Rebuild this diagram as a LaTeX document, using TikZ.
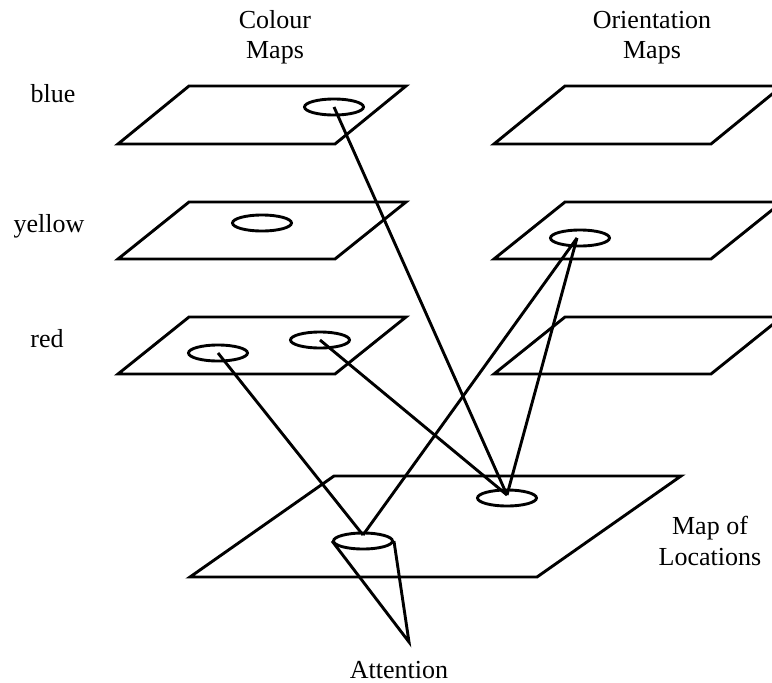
\documentclass[tikz,border=0pt]{standalone}
\usepackage{fontspec}
\setmainfont{Liberation Serif}
\usetikzlibrary{shapes.geometric}
\begin{document}
\begin{tikzpicture}[x=1pt,y=-1pt,
  lw/.style={line width=2.9pt},
  mapsheet/.style={lw},
  spot/.style={ellipse,draw,line width=2.9pt,minimum width=59pt,minimum height=16pt,inner sep=0pt},
  link/.style={lw},
  lbl/.style={font=\fontsize{26}{30}\selectfont,inner sep=0pt,anchor=base,align=center}]
\clip (0,0) rectangle (772,683);
% colour and orientation maps
\foreach \t/\b in {86/144,202/259,317/374}{
  \draw[mapsheet] (118,\b) -- (189,\t) -- (406,\t) -- (335,\b) -- cycle;
  \draw[mapsheet] (494,\b) -- (565,\t) -- (782,\t) -- (711,\b) -- cycle;
}
% map of locations
\draw[mapsheet] (190,577) -- (334,476) -- (681,476) -- (537,577) -- cycle;
% spots
\node[spot] (blue) at (334,107) {};
\node[spot] (yel) at (262,223) {};
\node[spot] (redL) at (218,353) {};
\node[spot] (redR) at (320,340) {};
\node[spot] (ori) at (580,238) {};
\node[spot] (loc) at (507,498) {};
\node[spot] (cone) at (363,541) {};
\coordinate (apex) at (409,642);
\coordinate (locP) at (507,495);
\coordinate (coneP) at (363,535);
\coordinate (oriP) at (577,238);
% cone
\draw[link] (cone.west) -- (apex) -- (cone.east);
% connectors
\draw[link] (blue.center) -- (locP);
\draw[link] (redR.center) -- (locP);
\draw[link] (oriP) -- (locP);
\draw[link] (oriP) -- (coneP);
\draw[link] (redL.center) -- (coneP);
% labels
\node[lbl] (tc1) at (275,28) {Colour};
\node[lbl] (tc2) at (275,58) {Maps};
\node[lbl] (to1) at (652,28) {Orientation};
\node[lbl] (to2) at (652,58) {Maps};
\node[lbl] (lb) at (53,102) {blue};
\node[lbl] (ly) at (49,232) {yellow};
\node[lbl] (lr) at (47,347) {red};
\node[lbl] (ml1) at (710,534) {Map of};
\node[lbl] (ml2) at (710,565) {Locations};
\node[lbl] (att) at (399,678) {Attention};
\end{tikzpicture}
\end{document}
